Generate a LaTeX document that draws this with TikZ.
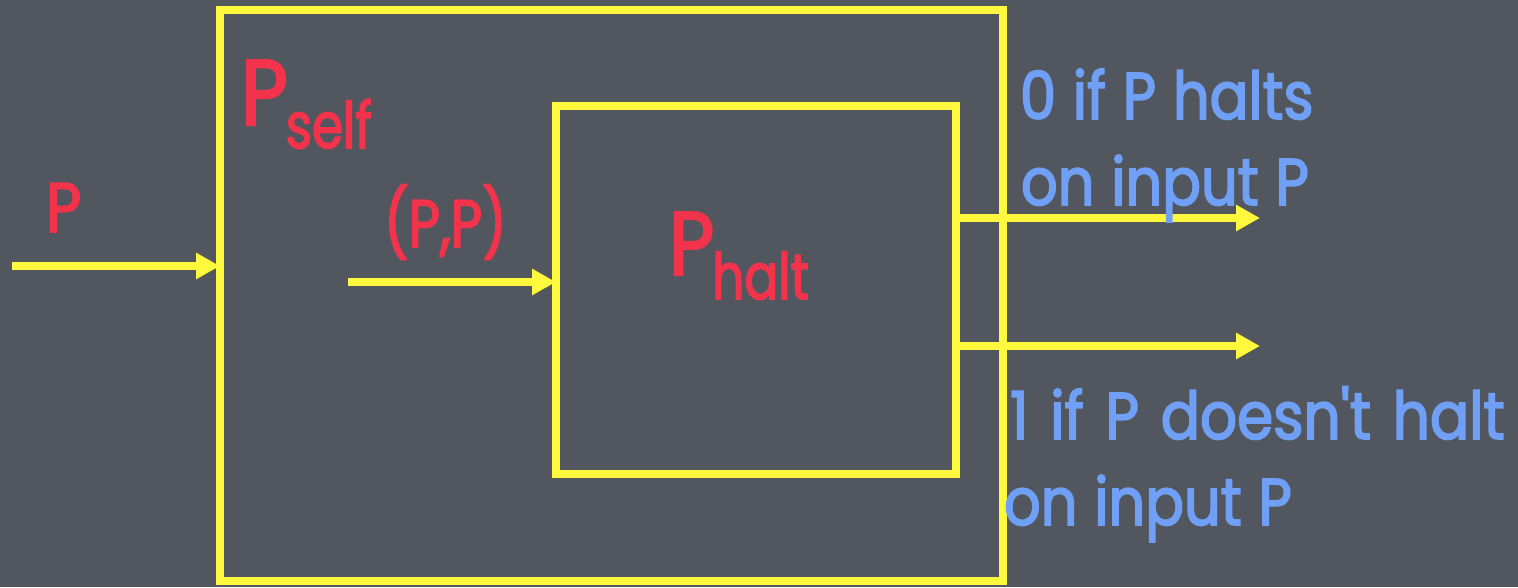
\documentclass[tikz,border=0pt]{standalone}
\usepackage{fontspec}
\setmainfont{Poppins}[Ligatures=TeXOff, FakeStretch=0.87, FakeBold=2.5]
\newfontfamily\notefont{Poppins}[Ligatures=TeXOff, FakeStretch=0.87, FakeBold=2.5, WordSpace=1.1]
\newfontfamily\widenotefont{Poppins}[Ligatures=TeXOff, FakeStretch=0.88, FakeBold=2.5, WordSpace=1.4]
\usetikzlibrary{arrows.meta}

\definecolor{slate}{HTML}{52575F}
\definecolor{boxyellow}{HTML}{FFF93E}
\definecolor{labelred}{HTML}{F3334C}
\definecolor{noteblue}{HTML}{6FA0F6}

\newcommand{\fs}[1]{\fontsize{#1}{#1}\selectfont}
\newcommand{\narrow}[1]{\scalebox{0.9}[1]{#1}}

\tikzset{
  machine/.style={draw=boxyellow, line width=7.5pt, rectangle, inner sep=0pt, outer sep=0pt},
  feed/.style={draw=boxyellow, line width=7.5pt, -{Triangle[length=24pt,width=25pt]}},
  redlabel/.style={text=labelred, inner sep=0pt, outer sep=0pt, anchor=base west},
  bluenote/.style={text=noteblue, inner sep=0pt, outer sep=0pt, anchor=base west, font=\notefont\fs{66}},
}

\begin{document}
\begin{tikzpicture}[x=1pt, y=-1pt]
  % chalkboard
  \fill[slate] (0,0) rectangle (1518,587);
  \useasboundingbox (0,0) rectangle (1518,587);

  % machines
  \node[machine, minimum width=783pt, minimum height=571pt] (self) at (611.5,295.5) {};
  \node[machine, minimum width=400pt, minimum height=368pt] (halt) at (756,290) {};

  % names
  \node[redlabel] (selfname) at (241,125) {\fs{93}P\kern-2pt\raisebox{-23pt}{\fs{64}\narrow{self}}};
  \node[redlabel] (haltname) at (669,275) {\fs{90}P\kern-2pt\raisebox{-24pt}{\fs{64}\narrow{halt}}};

  % input wires
  \coordinate (pin) at (12,266);
  \coordinate (ppin) at (348,282);
  \draw[feed] (pin) -- (pin -| self.west);
  \draw[feed] (ppin) -- (ppin -| halt.west);
  \node[redlabel, font=\fs{70}] (plabel) at (46,232) {P};
  \node[redlabel, font=\fs{67}] (pplabel) at (384,247) {\scalebox{0.93}[1]{(P,P)}};

  % output wires
  \coordinate (out0) at (1260,218);
  \coordinate (out1) at (1260,346);
  \draw[feed] (out0 -| halt.east) -- (out0);
  \draw[feed] (out1 -| halt.east) -- (out1);

  % output meanings
  \node[bluenote] (zeroa) at (1020,119) {0 if P halts};
  \node[bluenote] (zerob) at (1021,205) {on input P};
  \node[bluenote, font=\widenotefont\fs{66}] (onea) at (1010,439) {1 if P doesn't halt};
  \node[bluenote] (oneb) at (1004,525) {on input P};
\end{tikzpicture}
\end{document}
